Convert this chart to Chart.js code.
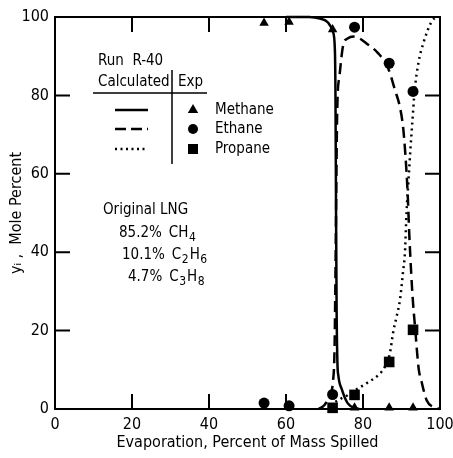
<!DOCTYPE html>
<html><head><meta charset="utf-8">
<script src="https://cdn.jsdelivr.net/npm/chart.js@4/dist/chart.umd.min.js"></script>
<style>html,body{margin:0;padding:0;background:#fff}#wrap{width:453px;height:458px}</style>
</head><body><div id="wrap"><canvas id="c" width="453" height="458"></canvas></div>
<script>
// experimental samples (x = evaporation %, y = mole %)
const sampleX      = [54.3, 60.8, 72.1, 77.8, 86.8, 93.0];
const methaneExp   = [98.5, 98.7, 96.8, 0.3, 0.3, 0.3];
const ethaneExp    = [1.5, 0.8, 3.7, 97.4, 88.2, 81.0];
const propaneExp   = [null, null, 0.3, 3.6, 12.0, 20.2];
// calculated curves
const methaneCalcX = [60, 66, 68.8, 70.9, 72.2, 72.7, 72.85, 73.0, 73.15, 73.35, 73.6, 74.5, 76, 78, 79];
const methaneCalcY = [100, 100, 99.6, 98.6, 96.2, 91.6, 80, 50, 25, 12, 8.5, 5, 1.5, 0.2, 0];
const ethaneCalcX  = [68.5, 70, 71.3, 72.2, 72.6, 72.8, 73.0, 73.3, 73.9, 74.9, 76, 77.5, 79, 81, 83.9, 86.5, 88.3, 89.6, 90.4, 91, 91.6, 92, 92.5, 93, 93.6, 94, 94.5, 95.2, 96.5, 98.2, 100];
const ethaneCalcY  = [0, 1, 3.5, 7, 15, 30, 50, 76, 85, 93, 94.5, 95, 94.6, 93.2, 90.8, 87, 81.4, 77, 72, 65, 55, 45, 35, 27, 20, 15, 10, 7, 2.3, 0.5, 0];
const propaneCalcX = [71.5, 74, 76, 78, 81, 84, 85.7, 87, 87.8, 88.7, 89.6, 90.4, 90.9, 91.3, 91.8, 92.3, 92.8, 93.4, 94.4, 95.7, 97.8, 99];
const propaneCalcY = [1, 2.5, 3.5, 4.8, 6.6, 8.7, 10.8, 14.3, 19.4, 23.5, 27.8, 35, 40, 50, 58, 66, 73, 81, 88.3, 93.4, 98.8, 100];
const tickValues   = [0, 20, 40, 60, 80, 100];
const legendNames  = ['Methane', 'Ethane', 'Propane'];
// original LNG composition: [percent text, formula parts (text, isSubscript)]
const lngLines     = [
  ['85.2%', [['CH', 0], ['4', 1]]],
  ['10.1%', [['C', 0], ['2', 1], ['H', 0], ['6', 1]]],
  ['4.7%',  [['C', 0], ['3', 1], ['H', 0], ['8', 1]]]
];

const FONT = '"DejaVu Sans Condensed", "DejaVu Sans", sans-serif';
const pts = (xs, ys) => xs.map((x, i) => ({x, y: ys[i]})).filter(p => p.y !== null);

const frame = {
  id: 'frame',
  afterDraw(chart) {
    const {ctx, chartArea: a, scales: {x, y}} = chart;
    ctx.save();
    ctx.strokeStyle = '#000'; ctx.lineWidth = 2;
    ctx.strokeRect(a.left, a.top, a.right - a.left, a.bottom - a.top);
    ctx.beginPath();
    tickValues.slice(1, -1).forEach(v => {
      const px = x.getPixelForValue(v), py = y.getPixelForValue(v);
      ctx.moveTo(px, a.bottom); ctx.lineTo(px, a.bottom - 15);
      ctx.moveTo(px, a.top); ctx.lineTo(px, a.top + 15);
      ctx.moveTo(a.left, py); ctx.lineTo(a.left + 15, py);
      ctx.moveTo(a.right, py); ctx.lineTo(a.right - 15, py);
    });
    ctx.stroke();
    // in-plot key
    ctx.fillStyle = '#000';
    const F = '15px ' + FONT, FS = '12px ' + FONT;
    ctx.font = F;
    ctx.textBaseline = 'middle';
    ctx.textAlign = 'left';
    ctx.fillText('Run  R-40', 98, 61);
    ctx.fillText('Calculated', 98, 82);
    ctx.fillText('Exp', 178, 82);
    ctx.lineWidth = 1.5;
    ctx.beginPath();
    ctx.moveTo(93, 93); ctx.lineTo(207, 93);
    ctx.moveTo(172, 70); ctx.lineTo(172, 164);
    ctx.stroke();
    const rows = [110, 129, 149];
    ctx.lineWidth = 2.5;
    [[], [11, 5], [2, 3.5]].forEach((d, i) => {
      ctx.setLineDash(d);
      ctx.beginPath(); ctx.moveTo(115, rows[i]); ctx.lineTo(148, rows[i]); ctx.stroke();
    });
    ctx.setLineDash([]);
    const mx = 193;
    ctx.beginPath();
    ctx.moveTo(mx, rows[0] - 6); ctx.lineTo(mx + 5.2, rows[0] + 3); ctx.lineTo(mx - 5.2, rows[0] + 3); ctx.closePath(); ctx.fill();
    ctx.beginPath(); ctx.arc(mx, rows[1], 5, 0, Math.PI * 2); ctx.fill();
    ctx.fillRect(mx - 5, rows[2] - 5, 10, 10);
    legendNames.forEach((n, i) => ctx.fillText(n, 215, rows[i]));
    ctx.fillText('Original LNG', 103, 210);
    // composition lines with real subscripts
    const starts = [[119, 233], [122, 255], [128, 277]];
    lngLines.forEach(([pct, parts], i) => {
      let [cx, cy] = starts[i];
      ctx.font = F;
      ctx.fillText(pct, cx, cy);
      cx += ctx.measureText(pct).width + 7;
      parts.forEach(([t, sub]) => {
        ctx.font = sub ? FS : F;
        ctx.fillText(t, cx, sub ? cy + 5 : cy);
        cx += ctx.measureText(t).width + (sub ? 1 : 0.5);
      });
    });
    ctx.restore();
  }
};

const expStyle = (style, r) => ({showLine: false, pointStyle: style, pointRadius: r, pointHoverRadius: r,
  backgroundColor: '#000', borderColor: '#000', borderWidth: 0, clip: false});
const calcStyle = (dash) => ({showLine: true, pointRadius: 0, borderColor: '#000', borderWidth: 2.5,
  borderDash: dash, cubicInterpolationMode: 'monotone', fill: false, clip: false});

new Chart(document.getElementById('c'), {
  type: 'scatter',
  data: {datasets: [
    {label: 'Methane calc', data: pts(methaneCalcX, methaneCalcY), ...calcStyle([])},
    {label: 'Ethane calc', data: pts(ethaneCalcX, ethaneCalcY), ...calcStyle([11, 6])},
    {label: 'Propane calc', data: pts(propaneCalcX, propaneCalcY), ...calcStyle([2, 4])},
    {label: 'Methane', data: pts(sampleX, methaneExp), ...expStyle('triangle', 5.5)},
    {label: 'Ethane', data: pts(sampleX, ethaneExp), ...expStyle('circle', 5.5)},
    {label: 'Propane', data: pts(sampleX, propaneExp), ...expStyle('rect', 7.5)},
  ]},
  options: {
    responsive: false, animation: false,
    layout: {padding: {left: 0, right: 0, top: 17, bottom: 0}},
    plugins: {legend: {display: false}, tooltip: {enabled: false}},
    scales: {
      x: {type: 'linear', min: 0, max: 100,
        afterBuildTicks: s => { s.ticks = tickValues.map(v => ({value: v})); },
        afterFit: s => { s.height = 49; s.paddingRight = 13; s.paddingLeft = 0; },
        grid: {display: false, drawTicks: false}, border: {display: false},
        ticks: {color: '#000', padding: 6, font: {family: FONT, size: 16}},
        title: {display: true, text: 'Evaporation, Percent of Mass Spilled', color: '#000',
          padding: {top: 0, bottom: 6}, font: {family: FONT, size: 16}}},
      y: {type: 'linear', min: 0, max: 100,
        afterBuildTicks: s => { s.ticks = tickValues.map(v => ({value: v})); },
        afterFit: s => { s.width = 55; },
        grid: {display: false, drawTicks: false}, border: {display: false},
        ticks: {color: '#000', padding: 6, font: {family: FONT, size: 16}},
        title: {display: true, text: 'yᵢ ,  Mole Percent', color: '#000',
          padding: {top: 7, bottom: 0}, font: {family: FONT, size: 16}}}
    }
  },
  plugins: [frame]
});
</script></body></html>
